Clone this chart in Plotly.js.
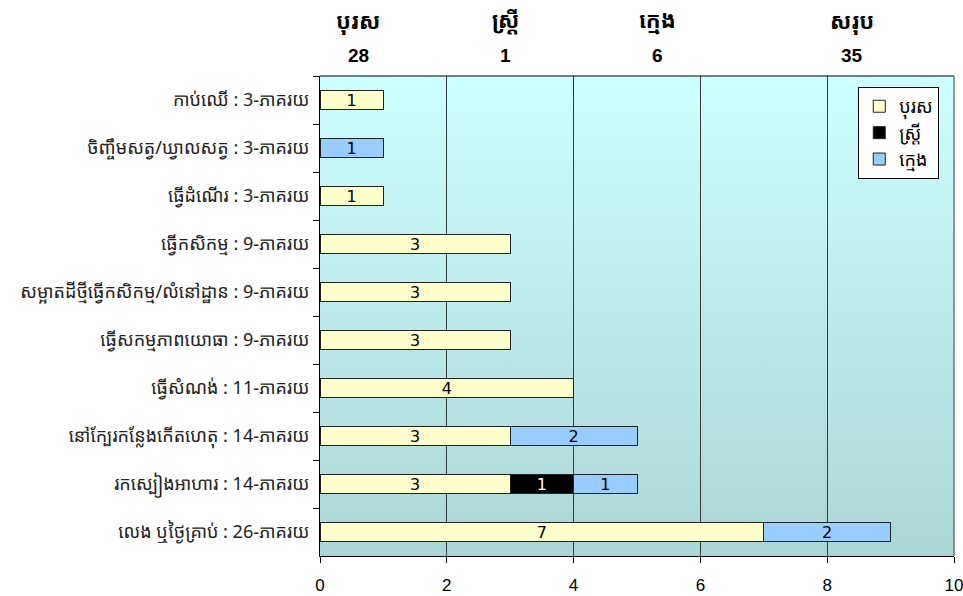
<!DOCTYPE html>
<html>
<head>
<meta charset="utf-8">
<script src="https://cdn.plot.ly/plotly-3.0.1.min.js"></script>
<style>html,body{margin:0;padding:0;background:#fff;}#chart{width:963px;height:596px;}</style>
</head>
<body>
<div id="chart"></div>
<script>
// Data (categories listed top to bottom)
const categories = [
  "កាប់ឈើ : 3-ភាគរយ",
  "ចិញ្ចឹមសត្វ/ឃ្វាលសត្វ : 3-ភាគរយ",
  "ធ្វើដំណើរ : 3-ភាគរយ",
  "ធ្វើកសិកម្ម : 9-ភាគរយ",
  "សម្អាតដីថ្មីធ្វើកសិកម្ម/លំនៅដ្ឋាន : 9-ភាគរយ",
  "ធ្វើសកម្មភាពយោធា : 9-ភាគរយ",
  "ធ្វើសំណង់ : 11-ភាគរយ",
  "នៅក្បែរកន្លែងកើតហេតុ : 14-ភាគរយ",
  "រកស្បៀងអាហារ : 14-ភាគរយ",
  "លេង ឬថ្ងៃគ្រាប់ : 26-ភាគរយ"
];
const seriesNames = ["បុរស", "ស្ត្រី", "ក្មេង"];
const male   = [1, null, 1, 3, 3, 3, 4, 3, 3, 7];
const female = [null, null, null, null, null, null, null, null, 1, null];
const child  = [null, 1, null, null, null, null, null, 2, 1, 2];
const headerLabels = ["បុរស", "ស្ត្រី", "ក្មេង", "សរុប"];
const headerTotals = ["28", "1", "6", "35"];
const xTicks = [0, 2, 4, 6, 8, 10];

const khmerFont = "'Noto Sans Khmer', 'Khmer OS', 'Khmer OS System', 'DejaVu Sans', sans-serif";
const colors = ["#FFFFCC", "#000000", "#99CCFF"];
const textColors = ["#000000", "#FFFFFF", "#000000"];
const values = [male, female, child];

const traces = values.map((v, i) => ({
  type: "bar",
  orientation: "h",
  name: seriesNames[i],
  y: categories,
  x: v,
  width: 0.4,
  marker: { color: colors[i], line: { color: "#222", width: 1 } },
  text: v.map(d => d === null ? "" : String(d)),
  textposition: "inside",
  insidetextanchor: "middle",
  constraintext: "none",
  textangle: 0,
  textfont: { family: "'DejaVu Sans', 'Liberation Sans', sans-serif", size: 16, color: textColors[i] },
  hoverinfo: "skip",
  cliponaxis: false
}));

const headerX = [0.06, 0.292, 0.532, 0.839];
const annotations = [];
headerLabels.forEach((t, i) => {
  annotations.push({
    xref: "paper", yref: "paper", x: headerX[i], y: 1.117, text: "<b>" + t + "</b>",
    showarrow: false, xanchor: "center", yanchor: "middle",
    font: { family: khmerFont, size: 22, color: "#000" }
  });
  annotations.push({
    xref: "paper", yref: "paper", x: headerX[i], y: 1.042, text: "<b>" + headerTotals[i] + "</b>",
    showarrow: false, xanchor: "center", yanchor: "middle",
    font: { family: "'Liberation Sans Narrow', 'Arial Narrow', 'Liberation Sans', sans-serif", size: 19, color: "#000" }
  });
});

const gradSvg = '<svg xmlns="http://www.w3.org/2000/svg" width="100" height="100" preserveAspectRatio="none">' +
  '<defs><linearGradient id="g" x1="0" y1="0" x2="0" y2="1">' +
  '<stop offset="0" stop-color="#CCFFFF"/><stop offset="1" stop-color="#ACD6D6"/>' +
  '</linearGradient></defs><rect width="100" height="100" fill="url(#g)"/></svg>';

const layout = {
  width: 963, height: 596,
  margin: { l: 320, r: 9, t: 76, b: 40 },
  paper_bgcolor: "#FFFFFF",
  plot_bgcolor: "rgba(0,0,0,0)",
  barmode: "stack",
  showlegend: true,
  legend: {
    x: 0.849, y: 0.977, xanchor: "left", yanchor: "top",
    bgcolor: "#FFFFFF", bordercolor: "#000", borderwidth: 1,
    font: { family: khmerFont, size: 18, color: "#000" },
    traceorder: "normal", itemwidth: 30, tracegroupgap: 0
  },
  xaxis: {
    range: [0, 10], tickvals: xTicks, ticktext: xTicks.map(String),
    ticks: "outside", ticklen: 6, tickcolor: "#000",
    ticklabelstandoff: 8, ticklabeloverflow: "allow",
    showgrid: true, gridcolor: "#3a3a3a", gridwidth: 1,
    showline: true, linecolor: "#000", linewidth: 1, mirror: false,
    zeroline: false,
    tickfont: { family: "'Liberation Sans', Arial, sans-serif", size: 17, color: "#000" },
    fixedrange: true
  },
  yaxis: {
    type: "category", categoryorder: "array", categoryarray: categories,
    autorange: "reversed",
    ticks: "outside", tickson: "boundaries", ticklen: 6, tickcolor: "#000",
    showgrid: false, showline: true, linecolor: "#000", linewidth: 1,
    ticklabelstandoff: 6,
    tickfont: { family: khmerFont, size: 18, color: "#222" },
    fixedrange: true
  },
  shapes: [
    { type: "line", xref: "paper", yref: "paper", x0: 0, x1: 1, y0: 1, y1: 1, line: { color: "#000", width: 1 } },
    { type: "line", xref: "paper", yref: "paper", x0: 1, x1: 1, y0: 0, y1: 1, line: { color: "#3a3a3a", width: 1 } }
  ],
  images: [{
    source: "data:image/svg+xml;charset=utf-8," + encodeURIComponent(gradSvg),
    xref: "paper", yref: "paper", x: 0, y: 1, sizex: 1, sizey: 1,
    xanchor: "left", yanchor: "top", sizing: "stretch", layer: "below"
  }],
  annotations: annotations
};

Plotly.newPlot("chart", traces, layout, { displayModeBar: false, staticPlot: true });
</script>
</body>
</html>
